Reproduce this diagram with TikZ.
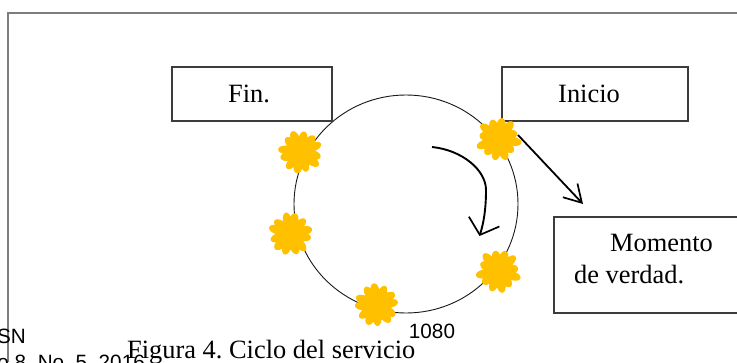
\documentclass[tikz,border=0pt]{standalone}
\usepackage{fontspec}
\setmainfont{Liberation Serif}
\newfontfamily\arialf{Liberation Sans}
\usetikzlibrary{arrows.meta}
\definecolor{blobc}{RGB}{255,192,0}
\definecolor{boxc}{RGB}{60,60,60}
\definecolor{framec}{RGB}{125,125,125}
\frenchspacing
\tikzset{
  boxn/.style={draw=boxc,line width=1.05pt,fill=white},
  serif/.style={font=\fontsize{26.4}{30}\selectfont,inner sep=0,anchor=base},
  sans/.style={font=\arialf\fontsize{20.7}{24}\selectfont,inner sep=0,anchor=base},
  ring/.style={draw=black!90,line width=0.9pt},
  straightarrow/.style={-{Straight Barb[length=17pt,width=20pt,line width=1.7pt]},line width=1.8pt,black},
  curvedarrow/.style={-{Straight Barb[length=14pt,width=32pt,line width=1.7pt]},line width=1.9pt,black},
  pics/burst/.style={code={
    \filldraw[fill=blobc,draw=blobc,line width=1pt,line join=round]
      plot[samples=145,domain=0:360] (\x+#1:{14.5+6.2*abs(cos(6*\x))^0.8+1.2*cos(5*\x+#1)+0.9*cos(7*\x+2*#1)}) -- cycle;
  }}
}
\begin{document}
\begin{tikzpicture}[x=1pt,y=-1pt]
\useasboundingbox (0,0) rectangle (737,362);
\fill[white] (0,0) rectangle (737,362);
\draw[framec,line width=1.4pt] (8,362) -- (8,13) -- (737,13);
\draw[ring] (406,204) ellipse [x radius=112,y radius=109];
\draw[boxn] (172,67) rectangle (332,121);
\draw[boxn] (502,67) rectangle (688,121);
\draw[boxn] (554,217) rectangle (745,313);
\pic at (498.5,139) {burst=10};
\pic at (300.5,152) {burst=40};
\pic at (290.5,234) {burst=75};
\pic at (498.5,271) {burst=20};
\pic at (376.5,305) {burst=55};
\node[serif] (fin) at (249,102) {Fin.};
\node[serif] (ini) at (589,102) {Inicio};
\node[serif,anchor=base west] (mom) at (610,251) {Momento};
\node[serif,anchor=base west] (ver) at (574,283) {de verdad.};
\node[sans,anchor=base east] (issn) at (26,343) {ISSN};
\node[sans,anchor=base east] (vol) at (145,369) {Año 8, No. 5, 2016};
\node[serif,anchor=base west] (fig) at (127,358) {Figura 4. Ciclo del servicio};
\node[sans] (num) at (432,338) {1080};
\coordinate (a1) at (518,135);
\coordinate (a2) at (583,204);
\coordinate (c1) at (432,147);
\coordinate (c2) at (479.5,236);
\draw[straightarrow] (a1) -- (a2);
\draw[curvedarrow] (c1) .. controls (462,150) and (486,170) .. (486,190) .. controls (486,208) and (484,222) .. (c2);
\end{tikzpicture}
\end{document}
